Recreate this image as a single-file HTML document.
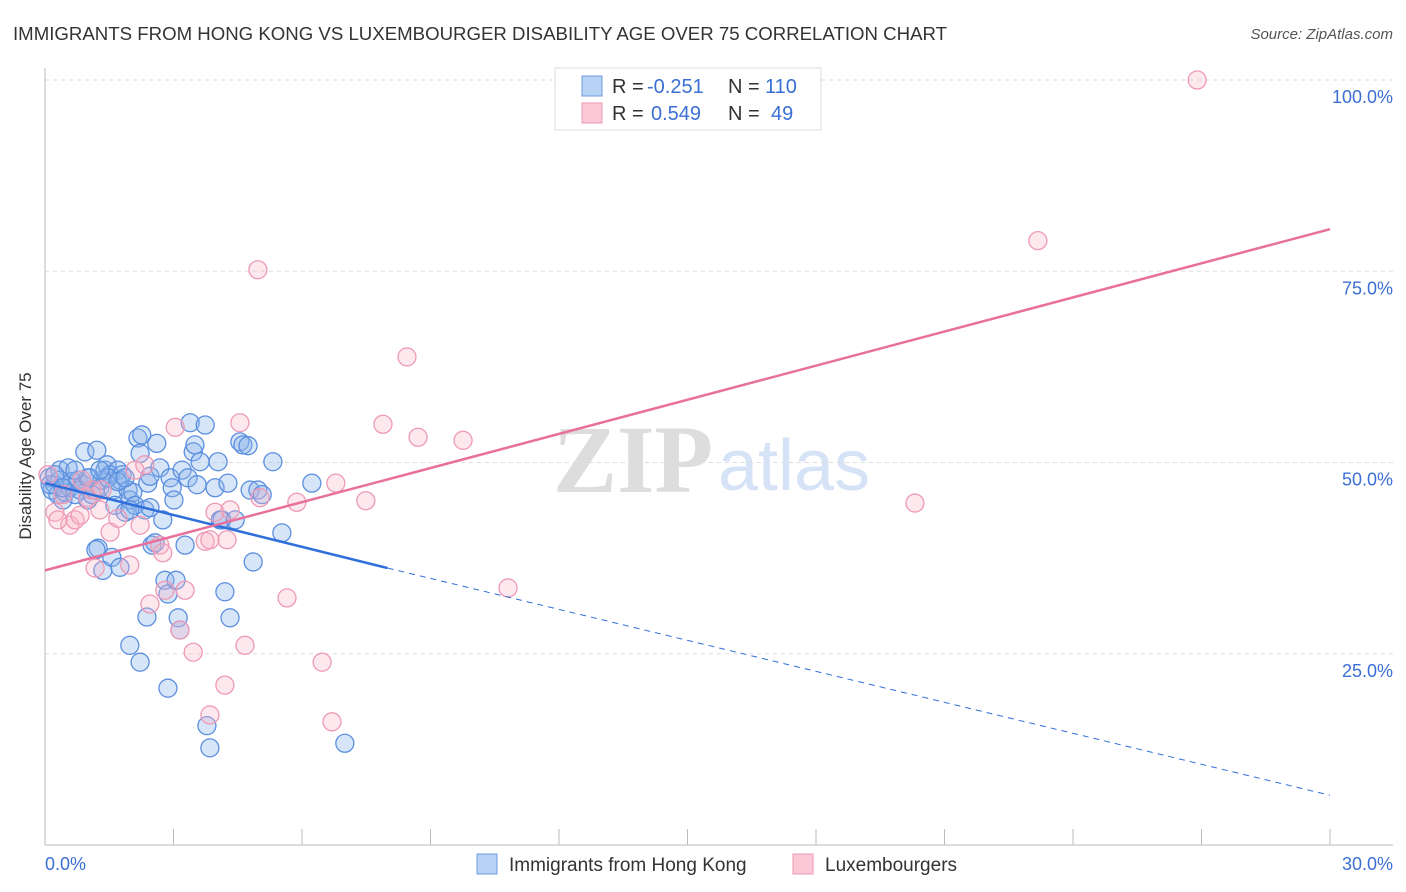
<!DOCTYPE html>
<html><head><meta charset="utf-8"><style>
body{margin:0;background:#fff;font-family:"Liberation Sans",sans-serif}
svg{display:block}
</style></head><body>
<svg id="chart" width="1406" height="892">
<text x="13" y="40" font-size="18" fill="#333" textLength="934" lengthAdjust="spacingAndGlyphs">IMMIGRANTS FROM HONG KONG VS LUXEMBOURGER DISABILITY AGE OVER 75 CORRELATION CHART</text>
<text x="1393" y="39" font-size="15" fill="#555" font-style="italic" text-anchor="end">Source: ZipAtlas.com</text>
<g>
<text x="553" y="492" font-size="96" fill="#ddd" font-family="Liberation Serif,serif" font-weight="bold">ZIP</text>
<text x="718" y="490" font-size="72" fill="#d6e2f5">atlas</text>
</g>
<g id="grid"></g>
<g id="axes"></g>
<g id="pts"></g>
<g id="lines"></g>
<text x="31" y="456" font-size="17" fill="#333" text-anchor="middle" transform="rotate(-90 31 456)">Disability Age Over 75</text>
<text x="45" y="870" font-size="18" fill="#3b6fd4">0.0%</text>
<text x="1393" y="870" font-size="18" fill="#3b6fd4" text-anchor="end">30.0%</text>
<g>
<rect x="555" y="68" width="266" height="62" fill="#fff" stroke="#ddd"/>
<rect x="582" y="76" width="20" height="20" fill="#b8d2f5" stroke="#6e9ae0"/>
<rect x="582" y="103" width="20" height="20" fill="#fbc8d8" stroke="#ee9ab5"/>
<text x="612" y="93" font-size="20" fill="#333">R = <tspan fill="#3b6fd4" x="647">-0.251</tspan><tspan x="728">N = </tspan><tspan fill="#3b6fd4" x="765">110</tspan></text>
<text x="612" y="120" font-size="20" fill="#333">R = <tspan fill="#3b6fd4" x="651">0.549</tspan><tspan x="728">N = </tspan><tspan fill="#3b6fd4" x="771">49</tspan></text>
</g>
<g>
<rect x="477" y="854" width="20" height="20" fill="#b8d2f5" stroke="#6e9ae0"/>
<text x="509" y="871" font-size="19" fill="#333">Immigrants from Hong Kong</text>
<rect x="793" y="854" width="20" height="20" fill="#fbc8d8" stroke="#ee9ab5"/>
<text x="825" y="871" font-size="19" fill="#333">Luxembourgers</text>
</g>
</svg>
<script>
const blueX=[0.1,0.16,0.23,0.3,0.35,0.42,0.47,0.54,0.58,0.63,0.7,0.77,0.82,0.89,0.93,1.0,1.05,1.1,1.17,1.21,1.28,1.33,1.4,1.45,1.52,1.59,1.63,1.7,1.75,1.8,1.87,1.94,1.98,2.05,2.1,2.17,2.22,2.26,2.33,2.4,2.45,2.5,2.57,2.61,2.68,2.75,2.8,2.87,2.92,2.97,3.01,3.06,3.11,3.15,3.2,3.27,3.34,3.39,3.46,3.5,3.55,3.62,3.74,3.78,3.85,3.97,4.04,4.09,4.13,4.2,4.27,4.32,4.44,4.55,4.62,4.74,4.79,4.86,4.97,5.07,5.32,5.53,6.23,7.0,1.98,2.22,2.87,1.24,1.19,1.35,1.56,1.75,2.38,1.47,1.7,1.87,1.0,0.35,0.12,0.23,0.42,0.7,2.45,1.98,1.28];
const blueY=[48.0,46.4,47.1,45.8,49.0,45.1,46.1,49.3,46.7,47.5,45.8,47.7,46.4,47.1,51.4,45.1,48.0,45.8,46.4,51.6,46.7,47.7,49.0,49.7,48.4,46.4,44.4,49.0,47.7,48.4,43.5,46.4,45.1,46.1,44.4,53.2,51.2,53.6,43.8,47.3,48.2,39.2,39.5,52.5,49.3,42.5,34.6,32.8,48.0,46.7,45.1,34.6,29.7,28.1,49.0,39.2,48.0,55.2,51.4,52.3,47.1,50.1,54.9,15.6,12.7,46.7,50.1,42.5,42.5,33.1,47.3,29.7,42.5,52.7,52.3,52.2,46.4,37.0,46.4,45.8,50.1,40.8,47.3,13.3,26.1,23.9,20.5,38.8,38.6,35.9,37.6,36.3,29.8,48.0,47.5,48.0,48.0,47.7,47.1,48.4,46.7,49.0,44.1,43.8,49.0];
const pinkX=[0.07,0.23,0.42,0.58,0.7,0.86,1.0,1.1,1.17,1.33,1.52,1.7,1.98,2.1,2.22,2.33,2.45,2.68,2.75,2.8,3.04,3.15,3.27,3.46,3.74,3.85,3.97,4.2,4.25,4.32,4.55,4.67,4.97,5.02,5.65,5.88,6.47,6.7,6.79,7.49,7.89,8.45,8.71,9.76,10.81,20.31,23.18,26.9,3.85,0.3,0.82,1.28];
const pinkY=[48.4,43.5,45.8,41.8,42.5,47.7,45.4,46.4,36.2,46.4,40.9,42.7,36.6,49.0,41.8,49.7,31.5,39.2,38.2,33.3,54.6,28.1,33.3,25.2,39.7,39.9,43.5,20.9,39.9,43.8,55.2,26.1,75.2,45.4,32.3,44.8,23.9,16.1,47.3,45.0,55.0,63.8,53.3,52.9,33.6,44.7,79.0,100.0,17.0,42.5,43.1,43.8];
const yTicks=[25,50,75,100];
const yTickLabels=["25.0%","50.0%","75.0%","100.0%"];
const xTicks=[0,3,6,9,12,15,18,21,24,27,30];
const blueTrend=[47.3,36.2,6.5]; // y at x=0, x=8 (end solid), x=30
const blueSolidEnd=8;
const pinkTrend=[35.9,80.5]; // y at x=0, x=30

const NS="http://www.w3.org/2000/svg";
const X=v=>45+v/30*1285;
const Y=v=>845-v/100*765;
function mk(tag,attrs,parent){const e=document.createElementNS(NS,tag);for(const k in attrs)e.setAttribute(k,attrs[k]);document.getElementById(parent).appendChild(e);return e;}

yTicks.forEach((t,i)=>{
  const l=mk('line',{x1:45,x2:1393,y1:Y(t),y2:Y(t),stroke:'#ddd','stroke-dasharray':'4 4'},'grid');
  
  
  const tx=mk('text',{x:1393,y:Y(t)+23,'font-size':18,fill:'#3b6fd4','text-anchor':'end'},'grid');
  tx.textContent=yTickLabels[i];
  
  
});
let a=mk('line',{x1:45,x2:45,y1:68,y2:845,stroke:'#bbb'},'axes');


a=mk('line',{x1:45,x2:1393,y1:845,y2:845,stroke:'#bbb'},'axes');


xTicks.forEach(t=>{
  const l=mk('line',{x1:X(t),x2:X(t),y1:829,y2:845,stroke:'#bbb'},'axes');
  
  
});
blueX.forEach((v,i)=>{
  const c=mk('circle',{cx:X(v),cy:Y(blueY[i]),r:9,fill:'rgba(140,180,235,0.35)',stroke:'#5b8fe0','stroke-width':1.3},'pts');
  
  
});
pinkX.forEach((v,i)=>{
  const c=mk('circle',{cx:X(v),cy:Y(pinkY[i]),r:9,fill:'rgba(248,180,200,0.3)',stroke:'#ee9ab5','stroke-width':1.3},'pts');
  
  
});
let l=mk('line',{x1:X(0),y1:Y(blueTrend[0]),x2:X(blueSolidEnd),y2:Y(blueTrend[1]),stroke:'#2f6fdb','stroke-width':2.5},'lines');


l=mk('line',{x1:X(blueSolidEnd),y1:Y(blueTrend[1]),x2:X(30),y2:Y(blueTrend[2]),stroke:'#2f6fdb','stroke-width':1,'stroke-dasharray':'6 5'},'lines');


l=mk('line',{x1:X(0),y1:Y(pinkTrend[0]),x2:X(30),y2:Y(pinkTrend[1]),stroke:'#e8709a','stroke-width':2.5},'lines');


</script>
</body></html>
